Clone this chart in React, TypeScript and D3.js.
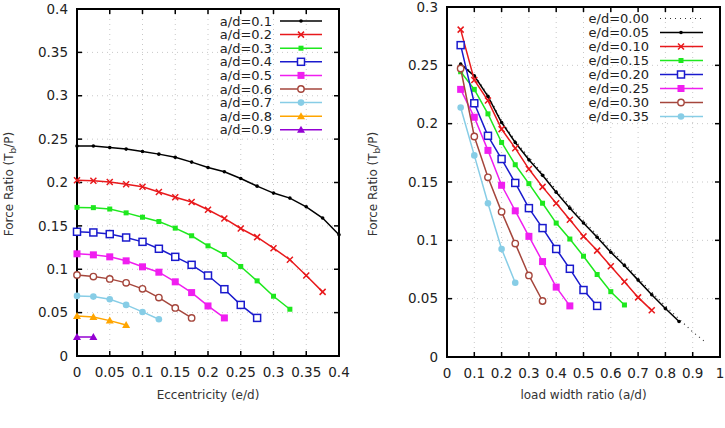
import { useEffect, useRef } from 'react';
import * as d3 from 'd3';

// Left panel: force ratio vs eccentricity, one curve per load width ratio
const eccSteps = [0, 0.025, 0.05, 0.075, 0.1, 0.125, 0.15, 0.175, 0.2, 0.225, 0.25, 0.275, 0.3, 0.325, 0.35, 0.375, 0.4];
const adLabels = ['a/d=0.1', 'a/d=0.2', 'a/d=0.3', 'a/d=0.4', 'a/d=0.5', 'a/d=0.6', 'a/d=0.7', 'a/d=0.8', 'a/d=0.9'];
const ad01 = [0.242, 0.242, 0.2404, 0.2385, 0.2358, 0.2327, 0.229, 0.2235, 0.2173, 0.2124, 0.2046, 0.1958, 0.1878, 0.182, 0.172, 0.159, 0.1397];
const ad02 = [0.2025, 0.202, 0.2005, 0.198, 0.195, 0.189, 0.183, 0.1775, 0.1686, 0.1586, 0.147, 0.137, 0.1243, 0.111, 0.0928, 0.0739];
const ad03 = [0.1713, 0.171, 0.1694, 0.165, 0.16, 0.155, 0.1474, 0.1386, 0.127, 0.117, 0.1032, 0.0866, 0.0689, 0.0539];
const ad04 = [0.1432, 0.1424, 0.1405, 0.1366, 0.1316, 0.1236, 0.1143, 0.1051, 0.0928, 0.077, 0.0589, 0.0439];
const ad05 = [0.1178, 0.1166, 0.1143, 0.1097, 0.1028, 0.0966, 0.0855, 0.0731, 0.0577, 0.0439];
const ad06 = [0.0935, 0.0916, 0.0889, 0.0843, 0.0774, 0.0674, 0.0554, 0.0439];
const ad07 = [0.0693, 0.0685, 0.0654, 0.0589, 0.0508, 0.0423];
const ad08 = [0.0462, 0.045, 0.0408, 0.0358];
const ad09 = [0.0219, 0.0219];
const eccTicks = [0, 0.05, 0.1, 0.15, 0.2, 0.25, 0.3, 0.35, 0.4];
const leftYTicks = [0, 0.05, 0.1, 0.15, 0.2, 0.25, 0.3, 0.35, 0.4];

// Right panel: force ratio vs load width ratio, one curve per eccentricity
const adSteps = [0.05, 0.1, 0.15, 0.2, 0.25, 0.3, 0.35, 0.4, 0.45, 0.5, 0.55, 0.6, 0.65, 0.7, 0.75, 0.8, 0.85, 0.9, 0.95];
const edLabels = ['e/d=0.00', 'e/d=0.05', 'e/d=0.10', 'e/d=0.15', 'e/d=0.20', 'e/d=0.25', 'e/d=0.30', 'e/d=0.35'];
const ed000 = [0.252, 0.242, 0.2245, 0.2025, 0.1855, 0.171, 0.1575, 0.1432, 0.1296, 0.1168, 0.1046, 0.0918, 0.0804, 0.0679, 0.0556, 0.0437, 0.0326, 0.0215, 0.0122];
const ed005 = [0.251, 0.241, 0.2234, 0.201, 0.1839, 0.169, 0.1557, 0.1412, 0.1276, 0.1148, 0.1026, 0.0898, 0.0784, 0.0659, 0.0534, 0.0415, 0.0304];
const ed010 = [0.2806, 0.2374, 0.2198, 0.1953, 0.179, 0.1611, 0.1458, 0.1318, 0.1176, 0.1034, 0.0912, 0.0778, 0.0645, 0.0511, 0.04];
const ed015 = [0.2445, 0.2294, 0.2084, 0.1839, 0.1648, 0.1486, 0.1318, 0.1148, 0.1011, 0.0864, 0.0707, 0.056, 0.0446];
const ed020 = [0.2673, 0.2175, 0.1896, 0.1697, 0.1492, 0.1276, 0.1105, 0.0926, 0.0756, 0.0574, 0.0438];
const ed025 = [0.2294, 0.2055, 0.1771, 0.1472, 0.1253, 0.1034, 0.0818, 0.0599, 0.0438];
const ed030 = [0.2473, 0.189, 0.154, 0.1244, 0.0972, 0.0699, 0.048];
const ed035 = [0.2138, 0.1728, 0.1318, 0.0926, 0.0636];
const adTicks = [0, 0.1, 0.2, 0.3, 0.4, 0.5, 0.6, 0.7, 0.8, 0.9, 1];
const rightYTicks = [0, 0.05, 0.1, 0.15, 0.2, 0.25, 0.3];

type Marker = 'plus' | 'cross' | 'fsquare' | 'osquare' | 'bsquare' | 'ocircle' | 'fcircle' | 'triangle' | 'none';

const seriesStyle: { color: string; marker: Marker }[] = [
  { color: '#000000', marker: 'plus' },
  { color: '#e8191c', marker: 'cross' },
  { color: '#1ee81e', marker: 'fsquare' },
  { color: '#1a1acd', marker: 'osquare' },
  { color: '#f01ef0', marker: 'bsquare' },
  { color: '#a5463c', marker: 'ocircle' },
  { color: '#87cde6', marker: 'fcircle' },
  { color: '#ffa500', marker: 'triangle' },
  { color: '#9400d3', marker: 'triangle' },
];

const font = '"DejaVu Sans", sans-serif';

function drawMarker(g: any, x: number, y: number, color: string, m: Marker) {
  switch (m) {
    case 'plus':
      g.append('circle').attr('cx', x).attr('cy', y).attr('r', 1.8).attr('fill', color);
      break;
    case 'cross':
      g.append('path').attr('d', `M${x - 3},${y - 3}L${x + 3},${y + 3}M${x - 3},${y + 3}L${x + 3},${y - 3}`)
        .attr('stroke', color).attr('stroke-width', 1.5);
      break;
    case 'fsquare':
      g.append('rect').attr('x', x - 2.5).attr('y', y - 2.5).attr('width', 5).attr('height', 5).attr('fill', color);
      break;
    case 'osquare':
      g.append('rect').attr('x', x - 3.5).attr('y', y - 3.5).attr('width', 7).attr('height', 7)
        .attr('fill', 'white').attr('stroke', color).attr('stroke-width', 1.5);
      break;
    case 'bsquare':
      g.append('rect').attr('x', x - 3.5).attr('y', y - 3.5).attr('width', 7).attr('height', 7).attr('fill', color);
      break;
    case 'ocircle':
      g.append('circle').attr('cx', x).attr('cy', y).attr('r', 3.2)
        .attr('fill', 'white').attr('stroke', color).attr('stroke-width', 1.4);
      break;
    case 'fcircle':
      g.append('circle').attr('cx', x).attr('cy', y).attr('r', 3.3).attr('fill', color);
      break;
    case 'triangle':
      g.append('path').attr('d', `M${x},${y - 4}L${x + 4},${y + 3}L${x - 4},${y + 3}Z`).attr('fill', color);
      break;
  }
}

function drawPanel(svg: any, opts: {
  left: number; right: number; top: number; bottom: number;
  xDomain: [number, number]; yDomain: [number, number];
  xTicks: number[]; yTicks: number[]; xFmt: (v: number) => string;
  xTitle: string; titleX: number;
}) {
  const x = d3.scaleLinear().domain(opts.xDomain).range([opts.left, opts.right]);
  const y = d3.scaleLinear().domain(opts.yDomain).range([opts.bottom, opts.top]);
  const g = svg.append('g');

  // dotted grid
  opts.xTicks.slice(1, -1).forEach(t => {
    g.append('line').attr('x1', x(t)).attr('x2', x(t)).attr('y1', opts.top).attr('y2', opts.bottom)
      .attr('stroke', '#c8c8c8').attr('stroke-width', 1).attr('stroke-dasharray', '1,4');
  });
  opts.yTicks.slice(1, -1).forEach(t => {
    g.append('line').attr('x1', opts.left).attr('x2', opts.right).attr('y1', y(t)).attr('y2', y(t))
      .attr('stroke', '#c8c8c8').attr('stroke-width', 1).attr('stroke-dasharray', '1,4');
  });

  // inward ticks on all four sides
  const tl = 5;
  opts.xTicks.forEach(t => {
    g.append('line').attr('x1', x(t)).attr('x2', x(t)).attr('y1', opts.bottom).attr('y2', opts.bottom - tl).attr('stroke', '#000').attr('stroke-width', 1.5);
    g.append('line').attr('x1', x(t)).attr('x2', x(t)).attr('y1', opts.top).attr('y2', opts.top + tl).attr('stroke', '#000').attr('stroke-width', 1.5);
    g.append('text').attr('x', x(t)).attr('y', opts.bottom + 21).attr('text-anchor', 'middle')
      .style('font-family', font).style('font-size', '13.5px').style('fill', '#222').text(opts.xFmt(t));
  });
  opts.yTicks.forEach(t => {
    g.append('line').attr('x1', opts.left).attr('x2', opts.left + tl).attr('y1', y(t)).attr('y2', y(t)).attr('stroke', '#000').attr('stroke-width', 1.5);
    g.append('line').attr('x1', opts.right).attr('x2', opts.right - tl).attr('y1', y(t)).attr('y2', y(t)).attr('stroke', '#000').attr('stroke-width', 1.5);
    g.append('text').attr('x', opts.left - 9).attr('y', y(t)).attr('dy', '0.35em').attr('text-anchor', 'end')
      .style('font-family', font).style('font-size', '13.5px').style('fill', '#222').text(String(t));
  });

  g.append('rect').attr('x', opts.left).attr('y', opts.top)
    .attr('width', opts.right - opts.left).attr('height', opts.bottom - opts.top)
    .attr('fill', 'none').attr('stroke', '#000').attr('stroke-width', 2);

  g.append('text').attr('x', (opts.left + opts.right) / 2).attr('y', 399).attr('text-anchor', 'middle')
    .style('font-family', font).style('font-size', '12px').style('fill', '#333').text(opts.xTitle);

  const yt = g.append('text').attr('transform', `translate(${opts.titleX},184) rotate(-90)`)
    .attr('text-anchor', 'middle').style('font-family', font).style('font-size', '12px').style('fill', '#333');
  yt.append('tspan').text('Force Ratio (T');
  yt.append('tspan').attr('dy', 3).style('font-size', '9px').text('b');
  yt.append('tspan').attr('dy', -3).text('/P)');

  return { x, y, g };
}

export default function App() {
  const svgRef = useRef<SVGSVGElement>(null);

  useEffect(() => {
    if (!svgRef.current) return;
    const svg = d3.select(svgRef.current);
    svg.selectAll('*').remove();

    // ---- left panel ----
    const L = drawPanel(svg, {
      left: 77, right: 339, top: 9, bottom: 356,
      xDomain: [0, 0.4], yDomain: [0, 0.4],
      xTicks: eccTicks, yTicks: leftYTicks, xFmt: v => String(v),
      xTitle: 'Eccentricity (e/d)', titleX: 13,
    });
    const leftSeries = [ad01, ad02, ad03, ad04, ad05, ad06, ad07, ad08, ad09];
    leftSeries.forEach((vals, i) => {
      const st = seriesStyle[i];
      const pts: [number, number][] = vals.map((v, j) => [L.x(eccSteps[j]), L.y(v)]);
      L.g.append('path').attr('d', d3.line()(pts)).attr('fill', 'none')
        .attr('stroke', st.color).attr('stroke-width', 1.5);
      pts.forEach(p => drawMarker(L.g, p[0], p[1], st.color, st.marker));
    });
    // legend
    adLabels.forEach((lab, i) => {
      const st = seriesStyle[i];
      const ly = 21 + i * 13.6;
      L.g.append('text').attr('x', 272).attr('y', ly).attr('dy', '0.35em').attr('text-anchor', 'end')
        .style('font-family', font).style('font-size', '13px').style('fill', '#222').text(lab);
      L.g.append('line').attr('x1', 280).attr('x2', 322).attr('y1', ly).attr('y2', ly)
        .attr('stroke', st.color).attr('stroke-width', 1.5);
      drawMarker(L.g, 301, ly, st.color, st.marker);
    });

    // ---- right panel ----
    const R = drawPanel(svg, {
      left: 447, right: 720, top: 7, bottom: 357,
      xDomain: [0, 1], yDomain: [0, 0.3],
      xTicks: adTicks, yTicks: rightYTicks, xFmt: v => String(v),
      xTitle: 'load width ratio (a/d)', titleX: 377,
    });
    // e/d = 0 drawn as a dotted line without markers
    const dotted: [number, number][] = ed000.map((v, j) => [R.x(adSteps[j]), R.y(v)]);
    R.g.append('path').attr('d', d3.line()(dotted)).attr('fill', 'none')
      .attr('stroke', '#333').attr('stroke-width', 1.2).attr('stroke-dasharray', '1,4');

    const rightSeries = [ed005, ed010, ed015, ed020, ed025, ed030, ed035];
    rightSeries.forEach((vals, i) => {
      const st = seriesStyle[i];
      const pts: [number, number][] = vals.map((v, j) => [R.x(adSteps[j]), R.y(v)]);
      R.g.append('path').attr('d', d3.line()(pts)).attr('fill', 'none')
        .attr('stroke', st.color).attr('stroke-width', 1.5);
      pts.forEach(p => drawMarker(R.g, p[0], p[1], st.color, st.marker));
    });
    edLabels.forEach((lab, i) => {
      const ly = 18.5 + i * 14;
      R.g.append('text').attr('x', 649).attr('y', ly).attr('dy', '0.35em').attr('text-anchor', 'end')
        .style('font-family', font).style('font-size', '13px').style('fill', '#222').text(lab);
      if (i === 0) {
        R.g.append('line').attr('x1', 660).attr('x2', 703).attr('y1', ly).attr('y2', ly)
          .attr('stroke', '#333').attr('stroke-width', 1.2).attr('stroke-dasharray', '1,4');
      } else {
        const st = seriesStyle[i - 1];
        R.g.append('line').attr('x1', 660).attr('x2', 703).attr('y1', ly).attr('y2', ly)
          .attr('stroke', st.color).attr('stroke-width', 1.5);
        drawMarker(R.g, 681, ly, st.color, st.marker);
      }
    });
  }, []);

  return (
    <svg ref={svgRef} width={725} height={428}
      style={{ position: 'absolute', left: 0, top: 0, background: '#fff' }} />
  );
}
